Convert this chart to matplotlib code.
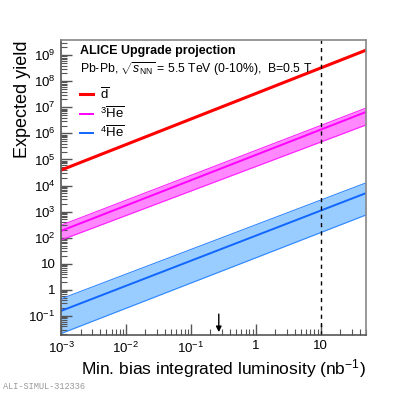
import matplotlib
matplotlib.use("Agg")
import matplotlib.pyplot as plt
from matplotlib.ticker import FixedLocator, FixedFormatter, LogLocator, NullFormatter

plt.rcParams['font.family'] = ['Liberation Sans', 'DejaVu Sans']
plt.rcParams['mathtext.fontset'] = 'custom'
plt.rcParams['mathtext.rm'] = 'Liberation Sans'
plt.rcParams['mathtext.it'] = 'Liberation Sans:italic'
plt.rcParams['mathtext.bf'] = 'Liberation Sans:bold'

# luminosity range (nb^-1) and yields
lumi = [1e-3, 50]
d_yield = [3.9e4, 1.55e9]
he3_yield = [182, 6.6e6]
he3_hi = [300, 9.3e6]
he3_lo = [81, 2.1e6]
he4_yield = [0.155, 5.1e3]
he4_hi = [0.45, 1.26e4]
he4_lo = [0.021, 740]

x_ticks = [1e-3, 1e-2, 1e-1, 1, 10]
x_labels = ['$10^{-3}$', '$10^{-2}$', '$10^{-1}$', '1', '10']
y_ticks = [1e-1, 1, 10, 1e2, 1e3, 1e4, 1e5, 1e6, 1e7, 1e8, 1e9]
y_labels = ['$10^{-1}$', '1', '10', '$10^{2}$', '$10^{3}$', '$10^{4}$', '$10^{5}$',
            '$10^{6}$', '$10^{7}$', '$10^{8}$', '$10^{9}$']
run_lumi = 0.27
target_lumi = 10

fig = plt.figure(figsize=(4.07, 3.94), dpi=100)
ax = fig.add_axes([0.150, 0.150, 0.749, 0.748])
ax.set_xscale('log')
ax.set_yscale('log')
ax.set_xlim(1e-3, 50)
ax.set_ylim(10**-1.73, 10**9.575)

# bands
ax.fill_between(lumi, he4_lo, he4_hi, color='#99ccff', lw=0)
ax.plot(lumi, he4_lo, color='#3388ff', lw=0.8)
ax.plot(lumi, he4_hi, color='#3388ff', lw=0.8)
ax.plot(lumi, he4_yield, color='#1166ff', lw=1.4, label=r'$^{4}\overline{\rm He}$')

ax.fill_between(lumi, he3_lo, he3_hi, color='#ff88ff', lw=0)
ax.plot(lumi, he3_lo, color='#ff22ff', lw=0.8)
ax.plot(lumi, he3_hi, color='#ff22ff', lw=0.8)
ax.plot(lumi, he3_yield, color='#ff00ff', lw=1.4, label=r'$^{3}\overline{\rm He}$')

ax.plot(lumi, d_yield, color='#ff0000', lw=2.2, label=r'$\overline{\rm d}$')

ax.axvline(target_lumi, color='black', ls=(0, (3, 3)), lw=1)
ax.annotate('', xy=(run_lumi, 0.0), xycoords=('data', 'axes fraction'),
            xytext=(run_lumi, 0.08), textcoords=('data', 'axes fraction'),
            arrowprops=dict(arrowstyle='-|>', color='black', lw=1, mutation_scale=8))

# ticks, ROOT style
ax.xaxis.set_major_locator(FixedLocator(x_ticks))
ax.xaxis.set_major_formatter(FixedFormatter(x_labels))
ax.xaxis.set_minor_locator(LogLocator(base=10, subs=range(2, 10), numticks=20))
ax.xaxis.set_minor_formatter(NullFormatter())
ax.yaxis.set_major_locator(FixedLocator(y_ticks))
ax.yaxis.set_major_formatter(FixedFormatter(y_labels))
ax.yaxis.set_minor_locator(LogLocator(base=10, subs=range(2, 10), numticks=20))
ax.yaxis.set_minor_formatter(NullFormatter())
ax.tick_params(which='both', direction='in', top=False, right=False, color='#555555')
ax.tick_params(which='major', length=8, width=1, labelsize=9.5, pad=4)
ax.tick_params(which='minor', length=4, width=0.8)
for s in ax.spines.values():
    s.set_color('#888888')
    s.set_linewidth(1.2)
ax.spines['left'].set_color('#555555')
ax.spines['bottom'].set_color('#555555')

ax.set_xlabel('Min. bias integrated luminosity (nb$^{-1}$)', fontsize=12.5, loc='right')
ax.xaxis.set_label_coords(1.0, -0.075)
ax.set_ylabel('Expected yield', fontsize=13, loc='top')
ax.yaxis.set_label_coords(-0.10, 1.0)

ax.text(0.062, 0.963, 'ALICE Upgrade projection', transform=ax.transAxes,
        fontsize=9, fontweight='bold', va='center')
ax.text(0.062, 0.903, r'Pb-Pb, $\sqrt{s_{\rm NN}}$ = 5.5 TeV (0-10%),  B=0.5 T',
        transform=ax.transAxes, fontsize=8.8, va='center')

handles, labels = ax.get_legend_handles_labels()
ax.legend(handles[::-1], labels[::-1], loc='upper left', bbox_to_anchor=(0.045, 0.86),
          frameon=False, fontsize=9.5, handlelength=1.0, handletextpad=0.5,
          labelspacing=0.3, borderaxespad=0)

fig.text(0.008, 0.008, 'ALI-SIMUL-312336', family='Liberation Mono', fontsize=6.2,
         color='#999999', ha='left', va='bottom')

fig.savefig('out.png', dpi=100)
